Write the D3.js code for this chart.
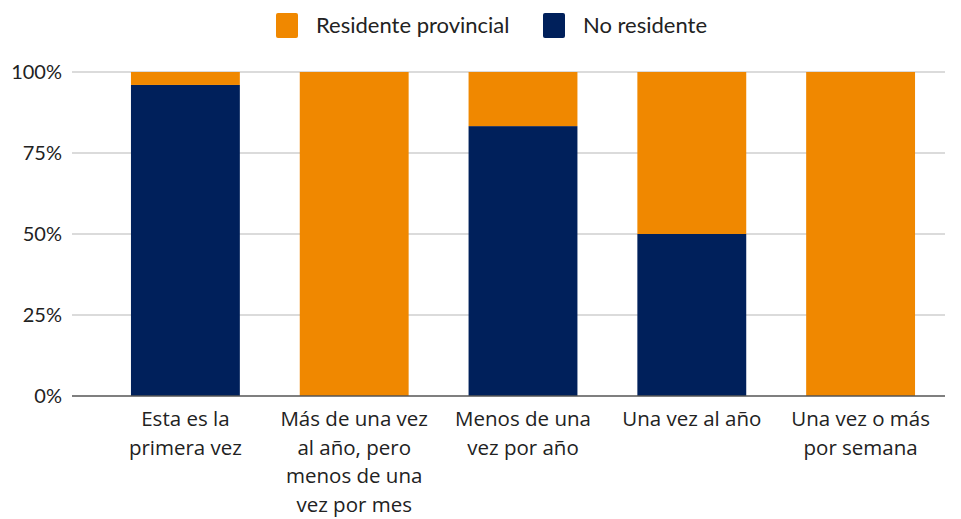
<!DOCTYPE html>
<html>
<head>
<meta charset="utf-8">
<script src="https://cdn.jsdelivr.net/npm/d3@7"></script>
<style>
  body { margin: 0; background: #fff; }
  text { font-family: "Open Sans", Lato, sans-serif; fill: #222; }
</style>
</head>
<body>
<svg width="961" height="519"></svg>
<script>
// categories (x axis), with line breaks as in the original
var categories = [
  ["Esta es la", "primera vez"],
  ["Más de una vez", "al año, pero", "menos de una", "vez por mes"],
  ["Menos de una", "vez por año"],
  ["Una vez al año"],
  ["Una vez o más", "por semana"]
];
var seriesNames = ["No residente", "Residente provincial"];
var noResidente = [0.96, 0, 0.833, 0.50, 0];
var residente = [0.04, 1, 0.167, 0.50, 1];
var yTicks = [0, 0.25, 0.5, 0.75, 1];
var colors = ["#00205b", "#f08800"];

var svg = d3.select("svg"),
	margin = {top: 72, right: 16, bottom: 123, left: 101},
	width = 961 - margin.left - margin.right,
	height = 519 - margin.top - margin.bottom;

var g = svg.append("g")
	.attr("transform", "translate(" + margin.left + "," + margin.top + ")");

var x = d3.scaleBand()
	.domain(d3.range(categories.length))
	.range([0, width])
	.paddingInner(0.355)
	.paddingOuter(0.1775);

var y = d3.scaleLinear().domain([0, 1]).range([height, 0]);

// gridlines
g.selectAll(".grid")
	.data(yTicks.slice(1))
	.enter().append("line")
		.attr("x1", -29)
		.attr("x2", width)
		.attr("y1", function(d) { return y(d); })
		.attr("y2", function(d) { return y(d); })
		.attr("stroke", "#cfcfcf")
		.attr("stroke-width", 1.3);

// y axis labels
var yAxis = d3.axisLeft(y).tickValues(yTicks).tickFormat(d3.format(".0%")).tickSize(0).tickPadding(39);
g.append("g").call(yAxis)
	.call(function(s) { s.select(".domain").remove(); })
	.selectAll("text")
		.style("font-family", "Lato, sans-serif")
		.style("font-size", "20px")
		.attr("fill", "#222");

// stacked data
var rows = categories.map(function(c, i) {
	return { i: i, "No residente": noResidente[i], "Residente provincial": residente[i] };
});
var stacked = d3.stack().keys(seriesNames)(rows);

g.selectAll(".series")
	.data(stacked)
	.enter().append("g")
		.attr("fill", function(d, i) { return colors[i]; })
	.selectAll("rect")
	.data(function(d) { return d; })
	.enter().append("rect")
		.attr("x", function(d) { return x(d.data.i); })
		.attr("width", x.bandwidth())
		.attr("y", function(d) { return y(d[1]); })
		.attr("height", function(d) { return y(d[0]) - y(d[1]); });

// baseline
g.append("line")
	.attr("x1", -29)
	.attr("x2", width)
	.attr("y1", height)
	.attr("y2", height)
	.attr("stroke", "#555")
	.attr("stroke-width", 1.5);

// x labels
var xl = g.selectAll(".xlab")
	.data(categories)
	.enter().append("text")
		.attr("text-anchor", "middle")
		.style("font-size", "20.5px")
		.attr("transform", function(d, i) {
			return "translate(" + (x(i) + x.bandwidth() / 2) + "," + (height + 30) + ")";
		});
xl.selectAll("tspan")
	.data(function(d) { return d; })
	.enter().append("tspan")
		.attr("x", 0)
		.attr("dy", function(d, j) { return j === 0 ? 0 : 28.7; })
		.text(function(d) { return d; });

// legend
var legendItems = [
	{ name: "Residente provincial", color: colors[1], x: 276 },
	{ name: "No residente", color: colors[0], x: 543 }
];
var lg = svg.selectAll(".legend")
	.data(legendItems)
	.enter().append("g")
		.attr("transform", function(d) { return "translate(" + d.x + ",13)"; });
lg.append("rect")
	.attr("width", 22)
	.attr("height", 25)
	.attr("rx", 2)
	.attr("fill", function(d) { return d.color; });
lg.append("text")
	.attr("x", 40)
	.attr("y", 20)
	.style("font-family", "Lato, sans-serif")
	.style("font-size", "22px")
	.text(function(d) { return d.name; });
</script>
</body>
</html>
